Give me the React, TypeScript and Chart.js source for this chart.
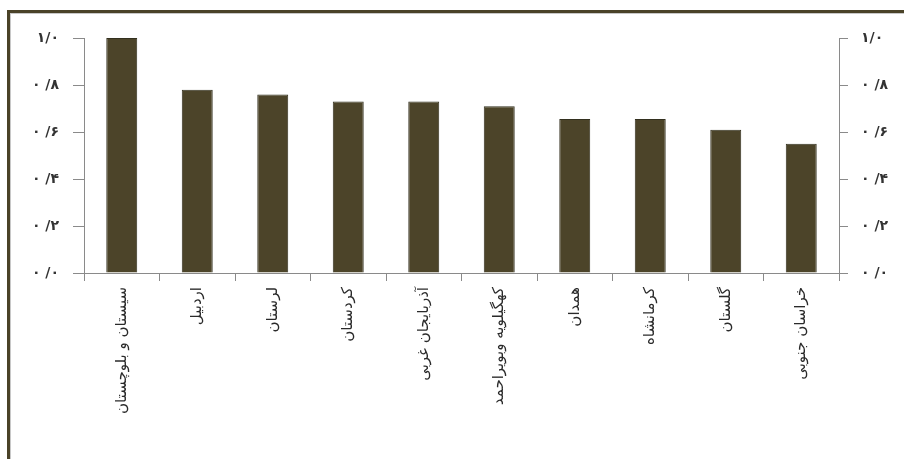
import React, { useEffect, useRef } from "react";
import { Chart, registerables } from "chart.js";

Chart.register(...registerables);

const provinces: string[] = [
  "سیستان و بلوچستان",
  "اردبیل",
  "لرستان",
  "کردستان",
  "آذربایجان غربی",
  "کهگیلویه وبویراحمد",
  "همدان",
  "کرمانشاه",
  "گلستان",
  "خراسان جنوبی",
];

const values: number[] = [1.0, 0.78, 0.76, 0.73, 0.73, 0.71, 0.655, 0.655, 0.61, 0.55];

const yTickValues: number[] = [0, 0.2, 0.4, 0.6, 0.8, 1.0];
const yTickLabels: string[] = ["۰ /۰", "۰ /۲", "۰ /۴", "۰ /۶", "۰ /۸", "۱/۰"];

const FONT = "'DejaVu Sans', 'Noto Sans', sans-serif";

export default function App() {
  const ref = useRef<HTMLCanvasElement | null>(null);

  useEffect(() => {
    if (!ref.current) return;
    const yLabel = (v: number | string) => {
      const n = Number(v);
      const i = yTickValues.findIndex((t) => Math.abs(t - n) < 1e-6);
      return i >= 0 ? yTickLabels[i] : "";
    };
    const chart = new Chart(ref.current, {
      type: "bar",
      data: {
        labels: provinces,
        datasets: [
          {
            data: values,
            backgroundColor: "#4c4429",
            borderColor: "#33301f",
            borderWidth: 1,
            categoryPercentage: 1,
            barPercentage: 0.41,
          },
        ],
      },
      options: {
        responsive: false,
        animation: false,
        layout: { padding: { top: 38, left: 0, right: 0, bottom: 0 } },
        plugins: { legend: { display: false }, tooltip: { enabled: false } },
        scales: {
          x: {
            type: "category",
            offset: true,
            grid: {
              offset: true,
              drawOnChartArea: false,
              drawTicks: true,
              tickLength: 8,
              color: "#8a8a8a",
            },
            border: { display: true, color: "#8a8a8a", width: 1 },
            ticks: {
              autoSkip: false,
              minRotation: 90,
              maxRotation: 90,
              padding: 6,
              color: "#2a2a2a",
              font: { family: FONT, size: 15 },
            },
            afterFit: (scale: any) => {
              scale.height = 459 - 38 - 235;
            },
          },
          y: {
            position: "left",
            min: 0,
            max: 1,
            afterBuildTicks: (scale: any) => {
              scale.ticks = yTickValues.map((v) => ({ value: v }));
            },
            grid: {
              drawOnChartArea: false,
              drawTicks: true,
              tickLength: 11,
              color: "#8a8a8a",
            },
            border: { display: true, color: "#8a8a8a", width: 1 },
            ticks: {
              padding: 14,
              color: "#333",
              font: { family: FONT, size: 14, weight: "bold" },
              callback: (v: any) => yLabel(v),
            },
            afterFit: (scale: any) => {
              scale.width = 84;
            },
          },
          y2: {
            position: "right",
            min: 0,
            max: 1,
            afterBuildTicks: (scale: any) => {
              scale.ticks = yTickValues.map((v) => ({ value: v }));
            },
            grid: {
              drawOnChartArea: false,
              drawTicks: true,
              tickLength: 9,
              color: "#8a8a8a",
            },
            border: { display: true, color: "#8a8a8a", width: 1 },
            ticks: {
              padding: 13,
              color: "#333",
              font: { family: FONT, size: 14, weight: "bold" },
              callback: (v: any) => yLabel(v),
            },
            afterFit: (scale: any) => {
              scale.width = 904 - 839;
            },
          },
        },
      },
    } as any);
    return () => chart.destroy();
  }, []);

  return (
    <div>
      <div
        style={{
          position: "fixed",
          left: 7,
          top: 10,
          width: 897,
          height: 449,
          borderTop: "3px solid #4a4228",
          borderLeft: "3px solid #4a4228",
          boxSizing: "border-box",
          background: "#fff",
        }}
      >
        <div
          style={{
            position: "absolute",
            left: 0,
            top: 0,
            right: 0,
            bottom: 0,
            borderTop: "1px solid #c8c8c8",
            borderLeft: "1px solid #c8c8c8",
          }}
        />
      </div>
      <canvas
        ref={ref}
        width={904}
        height={459}
        style={{ position: "fixed", left: 0, top: 0, width: 904, height: 459 }}
      />
    </div>
  );
}
